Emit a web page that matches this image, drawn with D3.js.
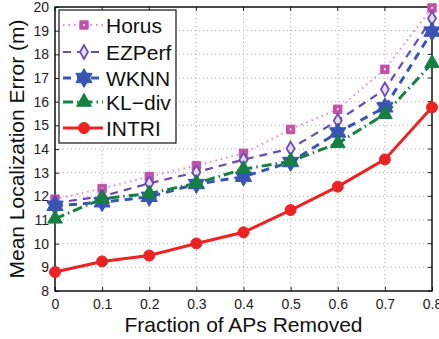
<!DOCTYPE html>
<html>
<head>
<meta charset="utf-8">
<script src="https://cdn.jsdelivr.net/npm/d3@7/dist/d3.min.js"></script>
<style>
  html, body { margin: 0; padding: 0; background: #fff; }
  svg { display: block; font-family: "Liberation Sans", Arial, sans-serif; }
</style>
</head>
<body>
<svg id="chart" width="439" height="339"></svg>
<script>
// Fraction of APs removed
const fractions = [0, 0.1, 0.2, 0.3, 0.4, 0.5, 0.6, 0.7, 0.8];

// Mean localization error (m) per method
const horus  = [11.88, 12.33, 12.84, 13.30, 13.82, 14.83, 15.68, 17.37, 19.96];
const ezperf = [11.72, 12.00, 12.55, 13.02, 13.55, 14.02, 15.20, 16.52, 19.52];
const wknn   = [11.60, 11.75, 11.98, 12.52, 12.83, 13.45, 14.70, 15.76, 18.96];
const kldiv  = [11.05, 11.90, 12.12, 12.55, 13.15, 13.48, 14.24, 15.47, 17.62];
const intri  = [8.80, 9.25, 9.50, 10.01, 10.48, 11.42, 12.41, 13.56, 15.76];

const seriesNames = ["Horus", "EZPerf", "WKNN", "KL\u2212div", "INTRI"];

const xTicks = [0, 0.1, 0.2, 0.3, 0.4, 0.5, 0.6, 0.7, 0.8];
const xTickLabels = ["0", "0.1", "0.2", "0.3", "0.4", "0.5", "0.6", "0.7", "0.8"];
const yTicks = [8, 9, 10, 11, 12, 13, 14, 15, 16, 17, 18, 19, 20];

const margin = { left: 55, right: 7, top: 7, bottom: 48 };
const W = 439, H = 339;
const svg = d3.select("#chart");

const x = d3.scaleLinear().domain([0, 0.8]).range([margin.left, W - margin.right]);
const y = d3.scaleLinear().domain([8, 20]).range([H - margin.bottom, margin.top]);

// six-pointed star symbol
const hexagram = {
  draw(ctx, size) {
    const r = Math.sqrt(size / 1.3);
    const ri = r * 0.58;
    for (let i = 0; i < 12; i++) {
      const a = -Math.PI / 2 + i * Math.PI / 6;
      const rr = i % 2 === 0 ? r : ri;
      const px = rr * Math.cos(a), py = rr * Math.sin(a);
      if (i === 0) ctx.moveTo(px, py); else ctx.lineTo(px, py);
    }
    ctx.closePath();
  }
};

const styles = [
  { values: horus,  color: "#c050a8", line: "#d98ccb", width: 2,   dash: "1.5,4",       sym: d3.symbolSquare,   size: 70,  fill: "#c050a8", inner: true },
  { values: ezperf, color: "#6a4cb4", line: "#6a4cb4", width: 2.2, dash: "8,6",         sym: d3.symbolDiamond,  size: 55,  fill: "#e6dcf5", sw: 1.8 },
  { values: wknn,   color: "#3a54b4", line: "#3a54b4", width: 3,   dash: "8,6",         sym: hexagram,          size: 115, fill: "#3a54b4" },
  { values: kldiv,  color: "#168040", line: "#168040", width: 3,   dash: "10,4,1.5,4",  sym: d3.symbolTriangle, size: 95,  fill: "#168040" },
  { values: intri,  color: "#ee2222", line: "#ee2222", width: 3,   dash: null,          sym: d3.symbolCircle,   size: 95,  fill: "#ee2222" }
];

// grid
const grid = svg.append("g").attr("stroke", "#999").attr("stroke-width", 0.8).attr("stroke-dasharray", "1,3");
xTicks.slice(1, -1).forEach(t => grid.append("line").attr("x1", x(t)).attr("x2", x(t)).attr("y1", y(8)).attr("y2", y(20)));
yTicks.slice(1, -1).forEach(t => grid.append("line").attr("x1", x(0)).attr("x2", x(0.8)).attr("y1", y(t)).attr("y2", y(t)));

// axes
const xAxis = d3.axisBottom(x).tickValues(xTicks).tickFormat((d, i) => xTickLabels[i]).tickSizeInner(-4).tickSizeOuter(0).tickPadding(8);
const yAxis = d3.axisLeft(y).tickValues(yTicks).tickFormat(d3.format("d")).tickSizeInner(-4).tickSizeOuter(0).tickPadding(6);

const gx = svg.append("g").attr("transform", `translate(0,${y(8)})`).call(xAxis);
const gy = svg.append("g").attr("transform", `translate(${x(0)},0)`).call(yAxis);
[gx, gy].forEach(g => {
  g.select(".domain").remove();
  g.selectAll("text").attr("font-size", 14).attr("fill", "#222").attr("font-family", "Liberation Sans, Arial, sans-serif");
  g.selectAll("line").attr("stroke", "#222");
});
// top / right ticks
const tk = svg.append("g").attr("stroke", "#222");
xTicks.forEach(t => tk.append("line").attr("x1", x(t)).attr("x2", x(t)).attr("y1", y(20)).attr("y2", y(20) + 4));
yTicks.forEach(t => tk.append("line").attr("x1", x(0.8)).attr("x2", x(0.8) - 4).attr("y1", y(t)).attr("y2", y(t)));

// frame
svg.append("rect").attr("x", x(0)).attr("y", y(20)).attr("width", x(0.8) - x(0)).attr("height", y(8) - y(20))
  .attr("fill", "none").attr("stroke", "#111").attr("stroke-width", 1.5);

// series lines
const lineGen = d3.line().x((d, i) => x(fractions[i])).y(d => y(d));
styles.forEach(s => {
  svg.append("path").datum(s.values).attr("d", lineGen).attr("fill", "none")
    .attr("stroke", s.line).attr("stroke-width", s.width)
    .attr("stroke-dasharray", s.dash).attr("stroke-linecap", "butt");
});

function drawMarker(g, s, cx, cy) {
  g.append("path").attr("d", d3.symbol().type(s.sym).size(s.size)())
    .attr("transform", `translate(${cx},${cy})`)
    .attr("fill", s.fill).attr("stroke", s.color).attr("stroke-width", s.sw || 1);
  if (s.inner) {
    g.append("rect").attr("x", cx - 1).attr("y", cy - 1).attr("width", 2).attr("height", 2).attr("fill", "#f4d8ee");
  }
}

// markers
styles.forEach(s => {
  const g = svg.append("g");
  s.values.forEach((v, i) => drawMarker(g, s, x(fractions[i]), y(v)));
});

// legend
const lg = svg.append("g");
lg.append("rect").attr("x", 59).attr("y", 10).attr("width", 117).attr("height", 133)
  .attr("fill", "#fff").attr("stroke", "#111").attr("stroke-width", 1.2);
const legendY = [25, 52, 78, 102, 128];
styles.forEach((s, i) => {
  const ly = legendY[i];
  lg.append("line").attr("x1", 63).attr("x2", 103).attr("y1", ly).attr("y2", ly)
    .attr("stroke", s.line).attr("stroke-width", s.width).attr("stroke-dasharray", s.dash);
  drawMarker(lg, s, 84, ly);
  lg.append("text").attr("x", 106).attr("y", ly).attr("dy", "0.36em")
    .attr("font-size", 21).attr("fill", "#111").text(seriesNames[i]);
});

// axis titles
svg.append("text").attr("x", (x(0) + x(0.8)) / 2).attr("y", 332).attr("text-anchor", "middle")
  .attr("font-size", 21).attr("fill", "#111").text("Fraction of APs Removed");
svg.append("text").attr("transform", `translate(24,${(y(8) + y(20)) / 2}) rotate(-90)`)
  .attr("text-anchor", "middle").attr("font-size", 21).attr("fill", "#111").text("Mean Localization Error (m)");
</script>
</body>
</html>
